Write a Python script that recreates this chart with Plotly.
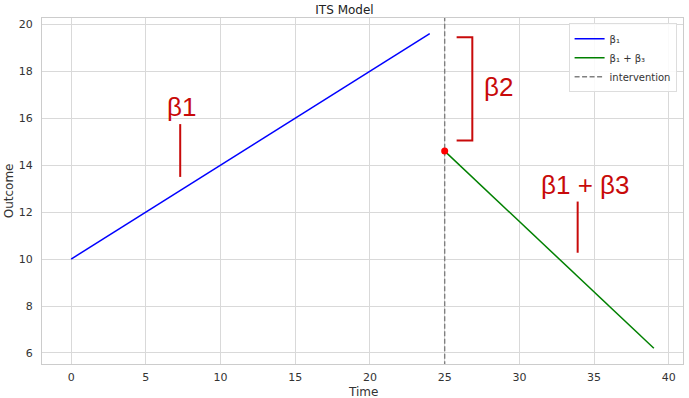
import plotly.graph_objects as go

# Data
t_pre = [0, 24]
y_pre = [10.0, 19.6]
t_post = [25, 39]
y_post = [14.6, 6.2]
intervention_t = 25
point_t = [25]
point_y = [14.6]

x_ticks = [0, 5, 10, 15, 20, 25, 30, 35, 40]
y_ticks = [6, 8, 10, 12, 14, 16, 18, 20]

# Annotation helpers (data coords)
b1_label = "β1"
b1_text_pos = (7.4, 16.5)
b1_line = ([7.3, 7.3], [13.5, 15.75])

b2_label = "β2"
b2_text_pos = (28.6, 17.35)
b2_bracket_x = [25.8, 26.85, 26.85, 25.8]
b2_bracket_y = [19.45, 19.45, 15.05, 15.05]

b3_label = "β1 + β3"
b3_text_pos = (34.4, 13.15)
b3_line = ([33.9, 33.9], [10.27, 12.45])

red = "#c80a0a"
font = "DejaVu Sans"

fig = go.Figure()
fig.add_trace(go.Scatter(x=t_pre, y=y_pre, mode="lines", line=dict(color="blue", width=1.5), name="β₁"))
fig.add_trace(go.Scatter(x=t_post, y=y_post, mode="lines", line=dict(color="green", width=1.5), name="β₁ + β₃"))
fig.add_trace(go.Scatter(x=[intervention_t, intervention_t], y=[0, 30], mode="lines",
                         line=dict(color="gray", width=1.4, dash="5px,2.5px"), name="intervention"))
fig.add_trace(go.Scatter(x=point_t, y=point_y, mode="markers", marker=dict(color="red", size=7),
                         showlegend=False))
fig.add_trace(go.Scatter(x=b1_line[0], y=b1_line[1], mode="lines", line=dict(color=red, width=2), showlegend=False))
fig.add_trace(go.Scatter(x=b2_bracket_x, y=b2_bracket_y, mode="lines", line=dict(color=red, width=2), showlegend=False))
fig.add_trace(go.Scatter(x=b3_line[0], y=b3_line[1], mode="lines", line=dict(color=red, width=2), showlegend=False))

for lab, pos in [(b1_label, b1_text_pos), (b2_label, b2_text_pos), (b3_label, b3_text_pos)]:
    fig.add_annotation(x=pos[0], y=pos[1], text=lab, showarrow=False,
                       font=dict(family="Liberation Sans", size=26, color=red))

# Axis titles as paper annotations
fig.add_annotation(x=0.5, y=-0.08, xref="paper", yref="paper", text="Time", showarrow=False,
                   xanchor="center", yanchor="middle", font=dict(size=12, color="#333333"))
fig.add_annotation(x=-0.051, y=0.5, xref="paper", yref="paper", text="Outcome", showarrow=False,
                   textangle=-90, xanchor="center", yanchor="middle", font=dict(size=12, color="#333333"))

axis_common = dict(showgrid=True, gridcolor="#d9d9d9", gridwidth=1, zeroline=False,
                   showline=True, linecolor="#cccccc", linewidth=1, mirror=True,
                   ticks="", tickfont=dict(size=11, color="#333333"), automargin=False)

fig.update_layout(
    width=689, height=398,
    margin=dict(l=42, r=6, t=18, b=34),
    paper_bgcolor="white", plot_bgcolor="white",
    font=dict(family=font, size=11, color="#333333"),
    title=dict(text="ITS Model", x=0.5, xanchor="center", y=0.985, yanchor="top",
               font=dict(size=12, color="#222222")),
    xaxis=dict(range=[-1.95, 40.95], tickvals=x_ticks, ticklabelstandoff=3, **axis_common),
    yaxis=dict(range=[5.53, 20.27], tickvals=y_ticks, ticklabelstandoff=6, **axis_common),
    legend=dict(x=0.99, y=0.985, xanchor="right", yanchor="top", bgcolor="rgba(255,255,255,0.85)",
                bordercolor="#dddddd", borderwidth=1, font=dict(size=10, color="#333333"),
                tracegroupgap=0, itemwidth=30),
    showlegend=True,
)

fig.write_html("out.html")
